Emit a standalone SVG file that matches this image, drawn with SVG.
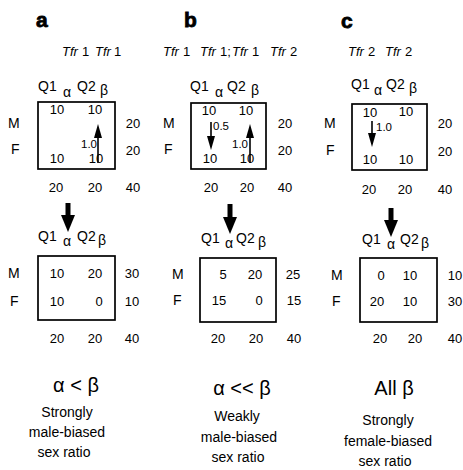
<svg xmlns="http://www.w3.org/2000/svg" width="463" height="470" viewBox="0 0 463 470">
<style>
text{font-family:"Liberation Sans",Arial,Helvetica,sans-serif;fill:#000}
.ttl{font-size:21px;font-weight:bold;stroke:#000;stroke-width:0.8}
.tfr{font-size:13px}
.it{font-style:italic}
.q{font-size:14px}
.gr{font-size:14px}
.n{font-size:13px;text-anchor:middle}
.s{font-size:11.5px}
.lab{font-size:14px}
.big{font-size:20px;text-anchor:middle}
.cap{font-size:14px;text-anchor:middle}
.box{fill:none;stroke:#000;stroke-width:1.7}
.sa{stroke:#000;stroke-width:1.6;fill:none}
.ba{stroke:#000;stroke-width:5;fill:none}
</style>
<defs>
<marker id="sh" markerUnits="userSpaceOnUse" markerWidth="14" markerHeight="8" viewBox="0 0 14 8" refX="1" refY="4" orient="auto">
<path d="M0,0 L14,4 L0,8 z" fill="#000"/>
</marker>
<marker id="bh" markerUnits="userSpaceOnUse" markerWidth="17" markerHeight="14" viewBox="0 0 17 14" refX="1" refY="7" orient="auto">
<path d="M0,0 L17,7 L0,14 z" fill="#000"/>
</marker>
</defs>

<!-- Panel a -->
<g id="panel-a-header">
<text class="ttl" x="36" y="27">a</text>
<text class="tfr" y="56"><tspan class="it" x="62">Tfr</tspan><tspan x="82">1</tspan><tspan class="it" x="95">Tfr</tspan><tspan x="114">1</tspan></text>
</g>
<g id="a-top">
<text class="q" x="38" y="91">Q1</text><text class="gr" x="63" y="97">α</text><text class="q" x="77" y="91">Q2</text><text class="gr" x="100" y="95">β</text>
<rect class="box" x="38" y="102" width="77" height="67"/>
<text class="lab" x="8" y="128">M</text><text class="lab" x="11" y="154">F</text>
<text class="n" x="57" y="114">10</text><text class="n" x="95" y="114">10</text>
<text class="n" x="57" y="163">10</text><text class="n" x="96" y="163">10</text>
<text class="s" x="97" y="148" text-anchor="end">1.0</text>
<text class="n" x="133" y="128">20</text><text class="n" x="133" y="155">20</text>
<text class="n" x="56" y="192">20</text><text class="n" x="95" y="192">20</text><text class="n" x="133" y="192">40</text>
</g>
<g id="a-bottom">
<text class="q" x="38" y="241">Q1</text><text class="gr" x="63" y="246">α</text><text class="q" x="77" y="241">Q2</text><text class="gr" x="98" y="245">β</text>
<rect class="box" x="38" y="256" width="77" height="64"/>
<text class="lab" x="8" y="278">M</text><text class="lab" x="10" y="306">F</text>
<text class="n" x="57" y="278">10</text><text class="n" x="95" y="278">20</text><text class="n" x="132" y="278">30</text>
<text class="n" x="57" y="306">10</text><text class="n" x="99" y="306">0</text><text class="n" x="132" y="306">10</text>
<text class="n" x="57" y="343">20</text><text class="n" x="95" y="343">20</text><text class="n" x="132" y="343">40</text>
</g>
<g id="a-result">
<text class="big" x="76" y="392">α &lt; β</text>
<text class="cap" x="67" y="417">Strongly</text>
<text class="cap" x="67" y="437">male-biased</text>
<text class="cap" x="64" y="457">sex ratio</text>
</g>

<!-- Panel b -->
<g id="panel-b-header">
<text class="ttl" x="184" y="27">b</text>
<text class="tfr" y="56"><tspan class="it" x="163">Tfr</tspan><tspan x="183">1</tspan><tspan class="it" x="200">Tfr</tspan><tspan x="220">1;</tspan><tspan class="it" x="232">Tfr</tspan><tspan x="252">1</tspan><tspan class="it" x="270">Tfr</tspan><tspan x="290">2</tspan></text>
</g>
<g id="b-top">
<text class="q" x="190" y="91">Q1</text><text class="gr" x="215" y="97">α</text><text class="q" x="227" y="91">Q2</text><text class="gr" x="251" y="95">β</text>
<rect class="box" x="191" y="103" width="75" height="66"/>
<text class="lab" x="163" y="128">M</text><text class="lab" x="164" y="154">F</text>
<text class="n" x="209" y="115">10</text><text class="n" x="246" y="115">10</text>
<text class="n" x="210" y="163">10</text><text class="n" x="247" y="163">10</text>
<text class="s" x="213" y="130">0.5</text>
<text class="s" x="248" y="148" text-anchor="end">1.0</text>
<text class="n" x="285" y="128">20</text><text class="n" x="285" y="155">20</text>
<text class="n" x="211" y="192">20</text><text class="n" x="247" y="192">20</text><text class="n" x="285" y="192">40</text>
</g>
<g id="b-bottom">
<text class="q" x="201" y="243">Q1</text><text class="gr" x="225" y="248">α</text><text class="q" x="236" y="243">Q2</text><text class="gr" x="258" y="247">β</text>
<rect class="box" x="200" y="258" width="76" height="64"/>
<text class="lab" x="172" y="279">M</text><text class="lab" x="173" y="305">F</text>
<text class="n" x="223" y="279">5</text><text class="n" x="255" y="279">20</text><text class="n" x="293" y="279">25</text>
<text class="n" x="219" y="305">15</text><text class="n" x="259" y="305">0</text><text class="n" x="294" y="305">15</text>
<text class="n" x="218" y="343">20</text><text class="n" x="256" y="343">20</text><text class="n" x="294" y="343">40</text>
</g>
<g id="b-result">
<text class="big" x="242" y="395">α &lt;&lt; β</text>
<text class="cap" x="237" y="421">Weakly</text>
<text class="cap" x="239" y="442">male-biased</text>
<text class="cap" x="238" y="462">sex ratio</text>
</g>

<!-- Panel c -->
<g id="panel-c-header">
<text class="ttl" x="341" y="28">c</text>
<text class="tfr" y="56"><tspan class="it" x="348">Tfr</tspan><tspan x="368">2</tspan><tspan class="it" x="385">Tfr</tspan><tspan x="405">2</tspan></text>
</g>
<g id="c-top">
<text class="q" x="351" y="89">Q1</text><text class="gr" x="374" y="95">α</text><text class="q" x="386" y="89">Q2</text><text class="gr" x="409" y="93">β</text>
<rect class="box" x="352" y="104" width="75" height="66"/>
<text class="lab" x="324" y="128">M</text><text class="lab" x="326" y="155">F</text>
<text class="n" x="370" y="117">10</text><text class="n" x="406" y="116">10</text>
<text class="n" x="370" y="164">10</text><text class="n" x="406" y="164">10</text>
<text class="s" x="376" y="131">1.0</text>
<text class="n" x="445" y="128">20</text><text class="n" x="445" y="156">20</text>
<text class="n" x="369" y="194">20</text><text class="n" x="405" y="194">20</text><text class="n" x="445" y="194">40</text>
</g>
<g id="c-bottom">
<text class="q" x="362" y="244">Q1</text><text class="gr" x="387" y="249">α</text><text class="q" x="400" y="244">Q2</text><text class="gr" x="421" y="248">β</text>
<rect class="box" x="360" y="258" width="77" height="64"/>
<text class="lab" x="331" y="280">M</text><text class="lab" x="332" y="306">F</text>
<text class="n" x="381" y="280">0</text><text class="n" x="410" y="280">10</text><text class="n" x="455" y="280">10</text>
<text class="n" x="377" y="306">20</text><text class="n" x="410" y="306">10</text><text class="n" x="455" y="306">30</text>
<text class="n" x="380" y="343">20</text><text class="n" x="415" y="343">20</text><text class="n" x="455" y="343">40</text>
</g>
<g id="c-result">
<text class="big" x="394" y="395">All β</text>
<text class="cap" x="388" y="425">Strongly</text>
<text class="cap" x="388" y="446">female-biased</text>
<text class="cap" x="385" y="466">sex ratio</text>
</g>

<!-- Connectors -->
<g id="connectors">
<line class="sa" x1="98" y1="163" x2="98" y2="137" marker-end="url(#sh)"/>
<line class="sa" x1="211" y1="122" x2="211" y2="137" marker-end="url(#sh)"/>
<line class="sa" x1="250" y1="163" x2="250" y2="137" marker-end="url(#sh)"/>
<line class="sa" x1="372" y1="121" x2="372" y2="134" marker-end="url(#sh)"/>
<line class="ba" x1="68" y1="203" x2="68" y2="216" marker-end="url(#bh)"/>
<line class="ba" x1="230" y1="204" x2="230" y2="218" marker-end="url(#bh)"/>
<line class="ba" x1="391" y1="208" x2="391" y2="221" marker-end="url(#bh)"/>
</g>
</svg>
